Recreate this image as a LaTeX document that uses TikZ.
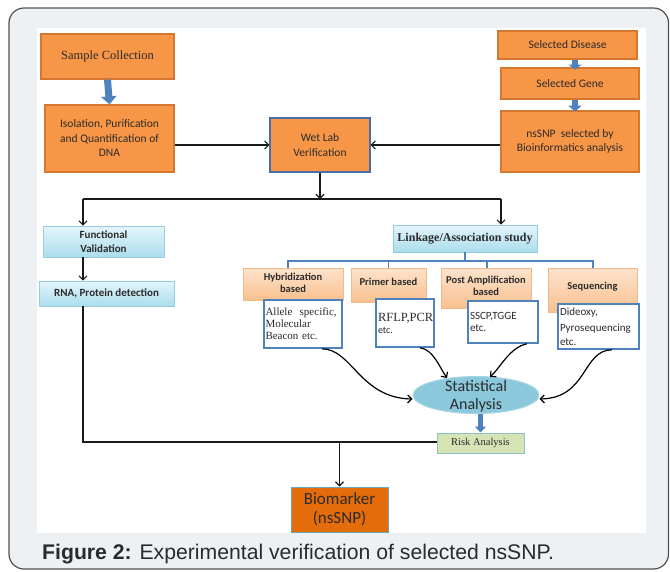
\documentclass[tikz,border=0pt]{standalone}
\usepackage{fontspec}
\setmainfont{Liberation Serif}
\newfontfamily\fcal{Carlito}
\newfontfamily\fsans{Liberation Sans}
\usetikzlibrary{arrows.meta,shapes.geometric,calc}
\definecolor{orFill}{HTML}{F79646}
\definecolor{orDraw}{HTML}{D5772E}
\definecolor{wlDraw}{HTML}{4A6FA5}
\definecolor{cyTop}{HTML}{E4F5FB}
\definecolor{cyBot}{HTML}{ABDDED}
\definecolor{cyDraw}{HTML}{93CDDF}
\definecolor{loTop}{HTML}{FDE3CD}
\definecolor{loBot}{HTML}{F9C08F}
\definecolor{loDraw}{HTML}{F2B98A}
\definecolor{wbDraw}{HTML}{4F81BD}
\definecolor{ellFill}{HTML}{8CC8DC}
\definecolor{ellDraw}{HTML}{A7D5E6}
\definecolor{riskFill}{HTML}{D5E3B5}
\definecolor{riskDraw}{HTML}{8EC1C5}
\definecolor{bioFill}{HTML}{E46C0A}
\definecolor{bioDraw}{HTML}{62A8BC}
\definecolor{arrBlue}{HTML}{4F81BD}
\definecolor{panel}{HTML}{EEF1F4}
\definecolor{frameC}{HTML}{505050}
\definecolor{txt}{HTML}{2B2B2B}
\begin{document}
\begin{tikzpicture}[x=1pt,y=-1pt,
  orbox/.style={draw=orDraw, fill=orFill, line width=1.3pt, inner sep=1pt, align=center, text=txt},
  cybox/.style={draw=cyDraw, top color=cyTop, bottom color=cyBot, line width=0.8pt, inner sep=1pt, align=center, text=txt},
  lobox/.style={draw=loDraw, top color=loTop, bottom color=loBot, line width=0.8pt, inner sep=0pt},
  lotext/.style={inner sep=0pt, align=center, text=txt, font=\fcal\bfseries\fontsize{10.5}{12}\selectfont},
  wbox/.style={draw=wbDraw, fill=white, line width=1.6pt, inner sep=2pt, align=left, text=txt},
  conn/.style={draw=black!90, line width=1.1pt, -{Straight Barb[length=4pt,width=8pt]}},
  plain/.style={draw=black!90, line width=1.1pt},
  tree/.style={draw=arrBlue, line width=1.8pt},
  fatarrow/.style={draw=arrBlue, line width=7pt, -{Triangle[length=8pt,width=15pt]}},
  curv/.style={draw=black, line width=1.2pt, -{Straight Barb[length=4pt,width=8pt]}},
  calfont/.style={font=\fcal\fontsize{11.5}{14.5}\selectfont}
]
\useasboundingbox (0,0) rectangle (670,571);
% frame and panel
\path[fill=white] (0,0) rectangle (670,571);
\draw[fill=panel, draw=frameC, line width=1.2pt, rounded corners=15pt] (9,8) rectangle (668.5,569);
\path[fill=white] (37,28) rectangle (646,533);

% top nodes
\node[orbox, minimum width=133, minimum height=45, font=\fontsize{12.5}{15}\selectfont] (sample) at (107.5,56.5) {Sample Collection};
\node[orbox, calfont, minimum width=129, minimum height=67] (isol) at (109.5,138.5) {Isolation, Purification\\and Quantification of\\DNA};
\node[orbox, calfont, draw=wlDraw, minimum width=100, minimum height=54] (wetlab) at (320,145) {Wet Lab\\Verification};
\node[orbox, calfont, minimum width=139, minimum height=28] (disease) at (567.5,45) {Selected Disease};
\node[orbox, calfont, minimum width=138, minimum height=31] (gene) at (570,83.5) {Selected Gene};
\node[orbox, calfont, minimum width=138, minimum height=61] (nssnp) at (570,141.5) {nsSNP\ \ selected by\\Bioinformatics analysis};

\draw[fatarrow] (sample.south) -- (isol.north);
\draw[fatarrow, line width=6pt, -{Triangle[length=5pt,width=13pt]}] ($(disease.south)+(7.5,0)$) -- ($(disease.south)+(7.5,10)$) coordinate (dg);
\draw[fatarrow, line width=6pt, -{Triangle[length=6pt,width=13pt]}] ($(gene.south)+(5,0)$) -- ($(gene.south)+(5,12)$) coordinate (gn);

\draw[conn] (isol.east |- wetlab.west) -- (wetlab.west);
\draw[conn] (nssnp.west |- wetlab.east) -- (wetlab.east);

% split
\coordinate (split) at (320,199);
\coordinate (jl) at (83,199);
\coordinate (jr) at (501,199);
\draw[conn] (wetlab.south) -- (split);
\draw[plain] (jl) -- (jr);

% left branch
\node[cybox, minimum width=121, minimum height=31, font=\fcal\bfseries\fontsize{11}{13.5}\selectfont] (func) at (103.5,241.5) {Functional\\Validation};
\node[cybox, minimum width=135, minimum height=25, font=\fcal\bfseries\fontsize{11}{13}\selectfont] (rna) at (106.5,293.5) {RNA, Protein detection};
\draw[conn] (jl) -- (jl |- func.north);
\draw[conn] (jl |- func.south) -- (jl |- rna.north);

% right branch
\node[cybox, minimum width=144, minimum height=27, font=\bfseries\fontsize{12}{14}\selectfont] (link) at (465,238.5) {Linkage/Association study};
\draw[conn] (jr) -- (jr |- link.north);

\node[lobox, minimum width=100, minimum height=32] (hyb) at (293,284) {};
\node[lobox, minimum width=75, minimum height=34] (primer) at (388.5,285) {};
\node[lobox, minimum width=90, minimum height=40] (post) at (486,288) {};
\node[lobox, minimum width=89, minimum height=44] (seq) at (592.5,290) {};
\node[lotext] (hybt) at (293,283) {Hybridization\\based};
\node[lotext] (primert) at (388.5,282) {Primer based};
\node[lotext] (postt) at (486,286) {Post Amplification\\based};
\node[lotext] (seqt) at (592.5,287) {Sequencing};

\coordinate (tj) at (465,261);
\draw[tree] (link.south) -- (tj);
\draw[tree] (hyb.north -| 288,0) |- (tj) -| (seq.north -| 593,0);
\draw[tree] (primer.north) -- (primer.north |- tj);
\draw[tree] (post.north -| 487,0) -- (tj -| 487,0);

\node[wbox, text width=75, inner sep=1.5pt, minimum height=48, font=\fontsize{11}{12}\selectfont] (allele) at (303,324) {\mbox{Allele\ \ specific,}\\Molecular\\Beacon etc.};
\node[wbox, text width=54, minimum height=48, font=\fontsize{12.5}{12}\selectfont] (rflp) at (405,323) {RFLP,PCR\\{\fcal\fontsize{10}{12}\selectfont etc.}};
\node[wbox, text width=66, minimum height=42, font=\fcal\fontsize{11}{12.5}\selectfont] (sscp) at (503,322) {SSCP,TGGE\\etc.};
\node[wbox, text width=77, minimum height=45, font=\fcal\fontsize{11}{14}\selectfont] (dide) at (598.5,326.5) {Dideoxy,\\[2pt]Pyrosequencing\\etc.};

% statistical
\node[ellipse, draw=ellDraw, fill=ellFill, line width=1pt, minimum width=126, minimum height=37, inner sep=0pt] (stat) at (476,395) {};
\node[inner sep=0pt, align=center, text=txt, font=\fcal\fontsize{16}{18}\selectfont] (statt) at (476,396) {Statistical\\Analysis};

\draw[curv] ($(allele.south)+(19,0)$) .. controls (352,349) and (360,398) .. ($(stat.west)+(0,4)$);
\draw[curv] ($(rflp.south)+(15,0)$) .. controls (433,349) and (440,368) .. ($(stat.center)+(-29,-17)$);
\draw[curv] ($(sscp.south)+(24,0)$) .. controls (510,347) and (500,368) .. ($(stat.center)+(14,-18)$);
\draw[curv] ($(dide.south)+(13.5,0)$) .. controls (582,350) and (588,398) .. ($(stat.east)+(0,4)$);

% risk and biomarker
\node[draw=riskDraw, fill=riskFill, line width=1pt, minimum width=87, minimum height=20, inner sep=0pt, text=txt, font=\fontsize{10.5}{12}\selectfont] (risk) at (480.5,443) {Risk Analysis};
\draw[fatarrow, line width=5pt, -{Triangle[length=6pt,width=11pt]}] (stat.south -| risk.north) -- (risk.north);

\coordinate (lb) at (83,442);
\coordinate (mb) at (339.5,442);
\draw[plain] (jl |- rna.south) -- (lb) -- (lb -| risk.west);
\node[draw=bioDraw, fill=bioFill, line width=1pt, minimum width=97, minimum height=45, inner sep=0pt, align=center, text=txt, font=\fcal\fontsize{17}{19}\selectfont] (bio) at (339.5,509.5) {Biomarker\\(nsSNP)};
\draw[conn] (mb) -- (bio.north);

% caption
\node[anchor=base west, inner sep=0pt, text=txt, font=\fsans\fontsize{21.2}{24}\selectfont] (cap) at (42,559) {\textbf{Figure 2:} Experimental verification of selected nsSNP.};
\end{tikzpicture}
\end{document}
